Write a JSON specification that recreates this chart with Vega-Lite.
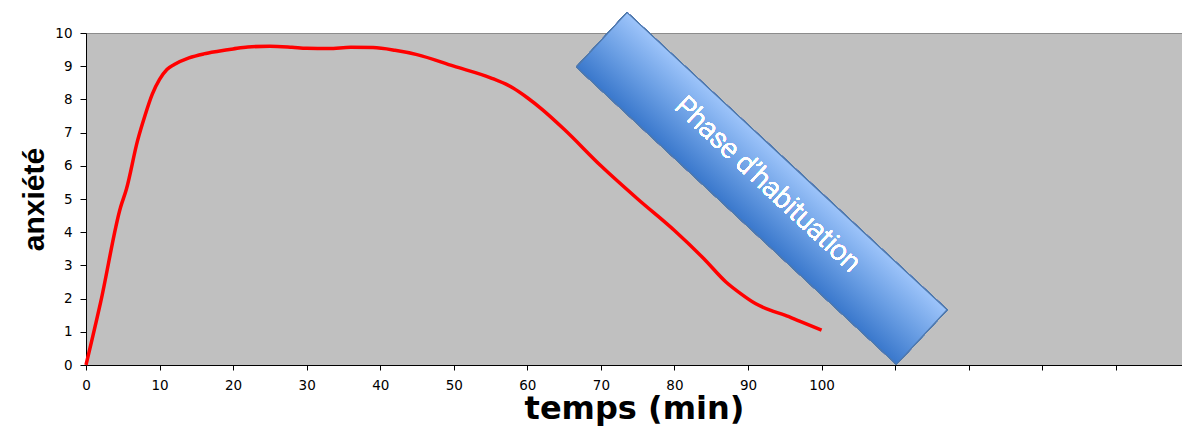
{
  "$schema": "https://vega.github.io/schema/vega-lite/v6.json",
  "width": 1096,
  "height": 332,
  "autosize": {"type": "none"},
  "padding": {"left": 86, "top": 33, "right": 0, "bottom": 67},
  "background": "white",
  "config": {
    "view": {"fill": "#c0c0c0", "stroke": "#8c8c8c", "strokeWidth": 1},
    "axis": {
      "grid": false,
      "domainColor": "#000000",
      "domainWidth": 1,
      "tickColor": "#000000",
      "tickWidth": 1,
      "labelColor": "#000000",
      "labelFont": "DejaVu Sans",
      "labelFontSize": 13.5,
      "labelFlush": false,
      "labelOverlap": false,
      "titleColor": "#000000",
      "titleFontWeight": "bold"
    },
    "axisX": {
      "titleFont": "DejaVu Sans",
      "titleFontSize": 32,
      "titlePadding": 2,
      "tickCount": 15,
      "labelExpr": "datum.value <= 100 ? datum.label : ''",
      "tickSize": 5,
      "labelPadding": 8
    },
    "axisY": {
      "titleFont": "Liberation Sans",
      "titleFontSize": 30,
      "titlePadding": 5,
      "tickCount": 11,
      "tickSize": 6,
      "labelPadding": 8
    }
  },
  "data": {
    "values": [
      {"t": 0, "anxiete": 0},
      {"t": 2, "anxiete": 1.9},
      {"t": 4.7, "anxiete": 4.75},
      {"t": 5.5, "anxiete": 5.3},
      {"t": 7, "anxiete": 6.75},
      {"t": 8, "anxiete": 7.5},
      {"t": 9, "anxiete": 8.15},
      {"t": 10, "anxiete": 8.6},
      {"t": 11, "anxiete": 8.9},
      {"t": 12, "anxiete": 9.05},
      {"t": 14, "anxiete": 9.25},
      {"t": 16, "anxiete": 9.37},
      {"t": 18, "anxiete": 9.45},
      {"t": 20, "anxiete": 9.52},
      {"t": 22, "anxiete": 9.58},
      {"t": 25, "anxiete": 9.6},
      {"t": 28, "anxiete": 9.57},
      {"t": 30, "anxiete": 9.54},
      {"t": 33, "anxiete": 9.53},
      {"t": 36, "anxiete": 9.57},
      {"t": 39, "anxiete": 9.56},
      {"t": 42, "anxiete": 9.48},
      {"t": 45, "anxiete": 9.35},
      {"t": 50, "anxiete": 9.0},
      {"t": 55, "anxiete": 8.65},
      {"t": 58, "anxiete": 8.35},
      {"t": 60, "anxiete": 8.05},
      {"t": 62, "anxiete": 7.7},
      {"t": 65, "anxiete": 7.1},
      {"t": 70, "anxiete": 6.0},
      {"t": 75, "anxiete": 5.0},
      {"t": 80, "anxiete": 4.05},
      {"t": 84, "anxiete": 3.2},
      {"t": 87, "anxiete": 2.5},
      {"t": 89, "anxiete": 2.15},
      {"t": 91, "anxiete": 1.85},
      {"t": 93, "anxiete": 1.65},
      {"t": 95, "anxiete": 1.5},
      {"t": 97, "anxiete": 1.32},
      {"t": 100, "anxiete": 1.05}
    ]
  },
  "layer": [
    {
      "mark": {"type": "line", "color": "#ff0000", "strokeWidth": 3.5, "interpolate": "monotone"},
      "encoding": {
        "x": {
          "field": "t",
          "type": "quantitative",
          "title": "temps (min)",
          "scale": {"domain": [0, 149], "nice": false, "zero": false}
        },
        "y": {
          "field": "anxiete",
          "type": "quantitative",
          "title": "anxiété",
          "scale": {"domain": [0, 10], "nice": false}
        }
      }
    },
    {
      "mark": {
        "type": "point",
        "shape": "M-1,-0.1697L1,-0.1697L1,0.1697L-1,0.1697Z",
        "size": 190620,
        "angle": 42.9,
        "filled": true,
        "opacity": 1,
        "fill": {
          "gradient": "linear",
          "x1": 0, "y1": 0, "x2": 0, "y2": 1,
          "stops": [
            {"offset": 0, "color": "#9dc4fa"},
            {"offset": 0.5, "color": "#6b9fe4"},
            {"offset": 1, "color": "#3a78cc"}
          ]
        },
        "stroke": "#4f79ad",
        "strokeWidth": 1
      },
      "encoding": {
        "x": {"datum": 91.87, "type": "quantitative", "title": "temps (min)"},
        "y": {"datum": 5.32, "type": "quantitative", "title": "anxiété"}
      }
    },
    {
      "mark": {
        "type": "text",
        "text": "Phase d’habituation",
        "angle": 43,
        "font": "Roboto",
        "fontWeight": 300,
        "fontSize": 28,
        "color": "#ffffff",
        "align": "center",
        "baseline": "middle"
      },
      "encoding": {
        "x": {"datum": 92.6, "type": "quantitative", "title": "temps (min)"},
        "y": {"datum": 5.42, "type": "quantitative", "title": "anxiété"}
      }
    }
  ]
}
